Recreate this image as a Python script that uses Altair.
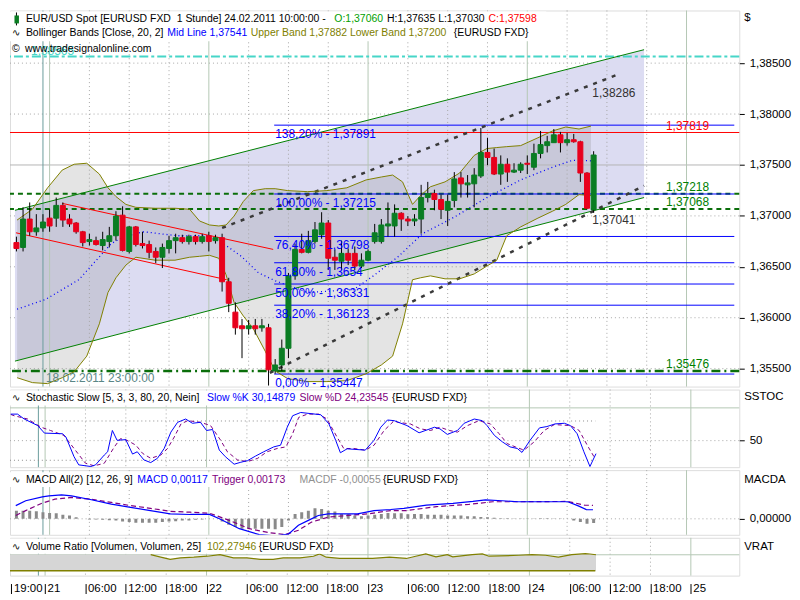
import altair as alt
import pandas as pd

FONT = "Liberation Sans"
W = 733
H_MAIN, H_STO, H_MACD, H_VOL = 378, 78, 65, 38
XMIN, XMAX = -0.22, 108.2

# ---------------- hourly EUR/USD bars, index 0 = 18.02.2011 19:00 ----------------
bar_open = [1.36738,1.36690,1.36969,1.36844,1.36882,1.36978,1.36978,1.37103,1.36969,1.36930,
 1.36844,1.36748,1.36757,1.36709,1.36748,1.36805,1.37007,1.36651,1.36892,1.36728,
 1.36719,1.36651,1.36594,1.36680,1.36757,1.36786,1.36748,1.36796,1.36748,1.36805,
 1.36757,1.36786,1.36353,1.36055,1.35921,1.35892,1.35921,1.35901,1.35901,1.35478,
 1.35536,1.35700,1.36411,1.36671,1.36642,1.36748,1.36815,1.36930,1.36594,1.36555,
 1.36632,1.36632,1.36507,1.36565,1.36748,1.36748,1.36901,1.36901,1.37026,1.36969,
 1.36950,1.36969,1.37180,1.37219,1.37161,1.37055,1.37151,1.37373,1.37305,1.37315,
 1.37392,1.37623,1.37574,1.37411,1.37507,1.37430,1.37449,1.37517,1.37478,1.37613,
 1.37690,1.37719,1.37796,1.37719,1.37748,1.37728,1.37421,1.37060]
bar_high = [1.36796,1.37084,1.37132,1.37017,1.37017,1.37065,1.37180,1.37132,1.37017,1.36940,
 1.36853,1.36825,1.36796,1.36844,1.36892,1.37046,1.37094,1.36901,1.36901,1.36844,
 1.36757,1.36690,1.36728,1.36805,1.36825,1.36815,1.36815,1.36815,1.36825,1.36844,
 1.36815,1.36825,1.36392,1.36151,1.35988,1.35978,1.35988,1.35988,1.35940,1.35594,
 1.35786,1.36440,1.36728,1.36825,1.36853,1.36940,1.37036,1.36959,1.36671,1.36757,
 1.36680,1.36700,1.36632,1.36671,1.36921,1.36969,1.37132,1.37113,1.37036,1.36998,
 1.37017,1.37305,1.37334,1.37257,1.37209,1.37209,1.37430,1.37430,1.37401,1.37469,
 1.37863,1.37767,1.37661,1.37594,1.37565,1.37517,1.37526,1.37594,1.37709,1.37834,
 1.37786,1.37853,1.37825,1.37815,1.37805,1.37738,1.37430,1.37635]
bar_low = [1.36651,1.36651,1.36805,1.36805,1.36844,1.36844,1.36892,1.36892,1.36892,1.36825,
 1.36700,1.36709,1.36709,1.36661,1.36690,1.36757,1.36651,1.36632,1.36700,1.36680,
 1.36584,1.36536,1.36488,1.36632,1.36632,1.36728,1.36719,1.36719,1.36728,1.36651,
 1.36728,1.36257,1.36055,1.35834,1.35603,1.35834,1.35834,1.35863,1.35334,1.35450,
 1.35478,1.35603,1.36373,1.36632,1.36632,1.36728,1.36776,1.36469,1.36469,1.36469,
 1.36517,1.36469,1.36488,1.36555,1.36728,1.36728,1.36796,1.36796,1.36853,1.36901,
 1.36901,1.36825,1.37132,1.37055,1.36969,1.36901,1.37084,1.37180,1.37180,1.37084,
 1.37373,1.37498,1.37401,1.37305,1.37334,1.37421,1.37421,1.37411,1.37449,1.37565,
 1.37623,1.37719,1.37623,1.37690,1.37719,1.37334,1.37065,1.37030]
bar_close = [1.36680,1.36969,1.36844,1.36882,1.36940,1.36901,1.37103,1.36959,1.36921,1.36844,
 1.36738,1.36767,1.36719,1.36767,1.36805,1.36998,1.36661,1.36892,1.36719,1.36709,
 1.36642,1.36594,1.36690,1.36757,1.36786,1.36748,1.36796,1.36748,1.36796,1.36748,
 1.36786,1.36353,1.36142,1.35901,1.35892,1.35921,1.35892,1.35921,1.35488,1.35536,
 1.35700,1.36411,1.36671,1.36642,1.36757,1.36863,1.36930,1.36584,1.36565,1.36632,
 1.36565,1.36507,1.36565,1.36651,1.36834,1.36911,1.36921,1.37026,1.36969,1.36950,
 1.36969,1.37180,1.37219,1.37161,1.37065,1.37142,1.37363,1.37315,1.37324,1.37401,
 1.37623,1.37574,1.37411,1.37507,1.37430,1.37449,1.37507,1.37507,1.37613,1.37700,
 1.37728,1.37796,1.37719,1.37748,1.37728,1.37421,1.37075,1.37598]

# ---------------- Bollinger bands (read at sample bars) ----------------
band_idx = [0.1,2.4,4.7,6.9,8.7,10.6,12.5,13.8,15.0,16.5,18.0,20.9,23.9,26.1,27.6,29.1,30.5,31.6,32.8,34.2,
 35.7,37.5,39.0,40.9,43.9,46.8,49.8,52.7,55.0,56.7,58.2,59.7,60.9,62.4,64.6,66.8,69.0,70.9,72.4,73.9,
 76.0,78.6,80.8,82.8,84.8,86.6]
band_upper = [1.36959,1.37065,1.37276,1.37450,1.37507,1.37517,1.37411,1.37276,1.37190,1.37113,
 1.37084,1.37075,1.37075,1.37065,1.36950,1.36911,1.36901,1.36911,1.36998,1.37142,
 1.37248,1.37267,1.37267,1.37248,1.37238,1.37248,1.37276,1.37353,1.37382,1.37401,
 1.37334,1.37113,1.37199,1.37286,1.37334,1.37421,1.37594,1.37661,1.37671,1.37680,
 1.37690,1.37767,1.37834,1.37873,1.37853,1.37882]
band_lower = [1.35411,1.35363,1.35353,1.35411,1.35469,1.35623,1.35940,1.36248,1.36392,1.36517,
 1.36594,1.36565,1.36565,1.36594,1.36603,1.36613,1.36584,1.36421,1.36151,1.36017,
 1.35892,1.35671,1.35478,1.35401,1.35373,1.35373,1.35382,1.35450,1.35536,1.35623,
 1.35940,1.36373,1.36392,1.36411,1.36382,1.36382,1.36430,1.36507,1.36565,1.36805,
 1.36892,1.36978,1.37046,1.37113,1.37209,1.37199]
mid_idx = [0.1,4.4,9.4,14.3,16.2,19.2,24.2,29.1,31.6,33.9,36.5,39.0,43.9,50.8,53.8,57.6,61.2,66.0,70.9,76.0,80.8,83.8,86.6]
mid_val = [1.36084,1.36180,1.36373,1.36728,1.36796,1.36844,1.36805,1.36805,1.36709,1.36603,1.36440,1.36363,
 1.36248,1.36276,1.36411,1.36603,1.36825,1.36988,1.37180,1.37353,1.37478,1.37546,1.37541]

# ---------------- drawings ----------------
chan_green_upper = [(-0.22, 1.37055), (94.6, 1.38632)]
chan_green_lower = [(-0.22, 1.35574), (94.6, 1.37180)]
chan_red_upper = [(6.9, 1.37123), (38.7, 1.36671)]
chan_red_lower = [(-0.07, 1.36834), (31.7, 1.36373)]
chan_dash_upper = [(31.0, 1.36882), (90.8, 1.38392)]
chan_dash_lower = [(38.2, 1.35459), (94.6, 1.37296)]
fib_start = 38.85
fib_levels = [1.37891, 1.37215, 1.36798, 1.36540, 1.36331, 1.36123, 1.35447]
fib_labels = ["138,20% - 1,37891", "100,00% - 1,37215", "76,40% - 1,36798", "61,80% - 1,3654",
              "50,00% - 1,36331", "38,20% - 1,36123", "0,00% - 1,35447"]
level_red = 1.37819
levels_green_dash = [1.37218, 1.37068]
level_green_dashdot = 1.35476
level_cyan = 1.38565
right_labels = [("1,37819", 1.37819, "#ff0000"), ("1,37218", 1.37218, "#008000"),
                ("1,37068", 1.37068, "#008000"), ("1,35476", 1.35476, "#008000")]
dash_labels = [("1,38286", 1.38286), ("1,37041", 1.37041)]

# ---------------- indicators ----------------
stoch_k = [(-0.1,90.5),(0.9,90.5),(1.9,83),(3.9,73),(4.9,61.5),(7.6,60.5),(8.1,55.5),(9.3,25.5),(10.0,13),(11.8,10.5),
 (12.5,13),(13.8,28),(14.3,33),(15.0,65.5),(15.7,50.5),(17.0,51.5),(18.0,29.5),(18.7,33),(19.7,20.5),(20.7,16.5),
 (21.7,23),(22.7,38),(23.7,63),(24.7,78),(25.9,83),(26.9,76.5),(28.1,78),(29.0,65.5),(29.9,67),(30.9,35.5),
 (31.8,25.5),(33.1,14),(34.1,17),(35.1,19.5),(36.3,26.5),(37.5,33),(39.0,40.5),(40.0,43),(41.0,70.5),(41.8,88),
 (43.0,93),(46.0,89.5),(47.2,75.5),(48.2,50.5),(48.9,31.5),(49.9,37.5),(52.6,35.5),(53.9,50.5),(54.9,70.5),(55.9,81.5),
 (56.9,80.5),(58.8,73),(60.6,62),(62.9,70.5),(63.7,68),(64.8,59.5),(66.3,65.5),(67.3,76.5),(68.8,83),(70.0,80.5),
 (70.7,73),(71.8,58),(73.0,48),(74.1,40.5),(75.2,38),(75.9,32),(77.1,50.5),(78.5,69.5),(79.6,71.5),(80.8,75.5),
 (82.2,76.5),(83.1,73),(84.1,60.5),(85.1,33),(86.0,10.5),(86.9,30.1)]
stoch_d = [(-0.1,90),(0.4,88),(2.4,83),(4.4,70.5),(5.8,65.5),(7.8,58),(9.3,38),(11.0,15.5),(12.3,11.5),(13.8,15.5),
 (15.3,40.5),(16.2,53),(17.2,50.5),(18.5,43),(19.5,30.5),(20.7,23),(22.2,28),(23.2,38),(24.2,55.5),(25.2,75.5),
 (26.2,80.5),(28.1,78),(29.6,73),(31.1,50.5),(32.1,33),(33.6,20.5),(35.1,18),(36.6,23),(38.0,33),(39.5,38),
 (40.8,40.5),(41.8,60.5),(42.7,85.5),(44.0,90.5),(45.7,90.5),(46.9,83),(48.4,55.5),(49.4,38),(50.9,38),(52.6,35.5),
 (53.9,43),(55.4,65.5),(56.9,80.5),(57.4,78),(59.3,75.5),(60.8,68),(62.3,65.5),(63.7,70.5),(65.1,65.5),(66.3,63),
 (67.8,73),(69.5,80.5),(71.2,75.5),(72.5,60.5),(73.7,45.5),(74.9,40.5),(76.2,35.5),(77.7,48),(79.2,65.5),(80.7,74.5),
 (83.1,73),(84.4,65.5),(85.6,43),(86.6,25.5),(86.9,24.2)]
macd_line = [(-0.1,0.00170),(1.4,0.00233),(3.9,0.00283),(4.9,0.00296),(6.8,0.00309),(8.3,0.00296),(11.3,0.00246),
 (14.3,0.00190),(17.2,0.00148),(20.2,0.00106),(23.2,0.00063),(26.2,0.00056),(29.1,0.00056),(30.6,0.0),
 (33.6,-0.00127),(36.6,-0.00203),(39.0,-0.00220),(41.0,-0.00197),(42.5,-0.00084),(44.0,-0.00020),(45.5,0.00043),
 (47.0,0.00063),(51.4,0.00063),(53.9,0.00106),(56.4,0.00120),(58.4,0.00135),(61.8,0.00177),(65.8,0.00199),
 (68.8,0.00224),(70.7,0.00245),(73.2,0.00233),(75.6,0.00220),(78.2,0.00220),(83.1,0.00220),(84.6,0.00170),
 (85.9,0.00119),(86.9,0.00117)]
macd_trigger = [(-0.1,0.00043),(1.4,0.00106),(3.9,0.00203),(5.8,0.00253),(8.3,0.00275),(11.3,0.00253),(14.3,0.00211),
 (17.2,0.00170),(20.2,0.00135),(23.2,0.00097),(26.2,0.00085),(29.1,0.00072),(32.1,-0.00020),(35.1,-0.00127),
 (38.0,-0.00177),(40.5,-0.00203),(42.5,-0.00147),(44.5,-0.00042),(47.0,0.00022),(49.9,0.00043),(52.9,0.00063),
 (56.4,0.00106),(58.8,0.00106),(63.3,0.00157),(68.2,0.00186),(71.8,0.00220),(75.6,0.00220),(83.1,0.00224),
 (85.6,0.00177),(86.9,0.00173)]
macd_hist = [0.00105,0.00105,0.00105,0.00097,0.00084,0.00076,0.00072,0.00051,0.00042,0.00021,
 0.0,-0.00008,-0.00008,-0.00013,-0.00017,-0.00021,-0.00034,-0.00042,-0.00051,-0.00051,
 -0.00051,-0.00051,-0.00042,-0.00034,-0.00030,-0.00021,-0.00021,-0.00013,-0.00008,0.0,
 0.0,-0.00034,-0.00076,-0.00105,-0.00127,-0.00127,-0.00127,-0.00127,-0.00127,-0.00135,
 -0.00105,-0.00021,0.00063,0.00084,0.00105,0.00135,0.00127,0.00105,0.00093,0.00063,
 0.00063,0.00042,0.00034,0.00042,0.00051,0.00063,0.00076,0.00072,0.00072,0.00059,
 0.00063,0.00063,0.00051,0.00051,0.00051,0.00042,0.00042,0.00042,0.00034,0.00034,
 0.00025,0.00021,0.00013,0.00008,0.00008,0.00004,0.00004,0.00004,0.00004,0.00008,
 0.00008,0.00004,0.00004,0.0,-0.00021,-0.00042,-0.00063,-0.00055]
vol_ratio = [(20.7,101),(22.2,85),(23.6,71),(25.1,81),(27.1,85),(29.1,91),(31.0,101),(33.0,81),(35.0,81),(37.0,71),
 (38.9,71),(40.4,81),(42.9,81),(44.9,91),(45.8,105),(46.8,85),(48.8,77),(53.7,77),(56.2,85),(58.7,77),
 (60.1,91),(61.6,105),(63.1,87),(64.8,101),(65.6,87),(68.5,101),(70.0,105),(71.0,91),(75.4,97),(77.4,101),
 (79.4,97),(81.3,85),(83.3,101),(85.3,107),(86.0,105),(86.9,100)]
vol_ratio_start = (-0.2, 101)

# ---------------- time axis ----------------
tick_idx = [0, 5, 11, 17, 23, 29, 35, 41, 47, 53, 59, 65, 71, 77, 83, 89, 95, 101]
tick_text = ["19:00", "21", "06:00", "12:00", "18:00", "22", "06:00", "12:00", "18:00", "23",
             "06:00", "12:00", "18:00", "24", "06:00", "12:00", "18:00", "25"]
six_hour_idx = [11, 17, 23, 35, 41, 47, 59, 65, 71, 83, 89, 95]
day_idx = [5, 29, 53, 77, 101]
marker_idx = 4  # 18.02.2011 23:00
main_ticks = [1.355, 1.36, 1.365, 1.37, 1.375, 1.38, 1.385]

# ---------------- colours ----------------
C_UP, C_DN = "#0a7d23", "#e8001c"
OLIVE, BLUE, PURPLE = "#808000", "#0000ff", "#800080"
GRID, DAY, TEAL = "#a6a6a6", "#b4c8b4", "#6a9c9c"
LEG = 10.5

xs = alt.Scale(domain=[XMIN, XMAX], nice=False, zero=False)
ys_main = alt.Scale(domain=[1.35324, 1.39017], nice=False, zero=False)
ys_sto = alt.Scale(domain=[9.5, 128], nice=False, zero=False)
ys_macd = alt.Scale(domain=[-0.00206, 0.00627], nice=False, zero=False)
ys_vol = alt.Scale(domain=[-30, 206], nice=False, zero=False)


def X(f="i", bottom=False):
    # upper panels: no x axis at all; bottom panel: leave axis to the dedicated axis layer
    if bottom:
        return alt.X(f"{f}:Q", scale=xs)
    return alt.X(f"{f}:Q", scale=xs, axis=None)


def Yq(f, sc, off=False):
    # y axis is defined once per panel by its axis layer; other layers leave it implicit
    if off:
        return alt.Y(f"{f}:Q", scale=sc, axis=None)
    return alt.Y(f"{f}:Q", scale=sc)


def px_texts(rows, size=LEG):
    out = []
    for px, py, t, col in rows:
        out.append(alt.Chart(pd.DataFrame({"t": [t]})).mark_text(
            align="left", baseline="middle", font=FONT, fontSize=size, color=col).encode(
            x=alt.value(px), y=alt.value(py), text="t:N"))
    return out


def px_rect(x0, x1, y0, y1, color="white"):
    return alt.Chart(pd.DataFrame({"a": [0]})).mark_rect(color=color).encode(
        x=alt.value(x0), x2=alt.value(x1), y=alt.value(y0), y2=alt.value(y1))


def vgrid(bottom=False):
    dots = alt.Chart(pd.DataFrame({"i": six_hour_idx})).mark_rule(color=GRID, strokeDash=[1, 3]).encode(
        x=X("i", bottom))
    days = alt.Chart(pd.DataFrame({"i": day_idx})).mark_rule(color=DAY).encode(x=X("i", bottom))
    mark = alt.Chart(pd.DataFrame({"i": [marker_idx]})).mark_rule(color=TEAL).encode(x=X("i", bottom))
    return [dots, days, mark]


def seg(points):
    return pd.DataFrame({"x0": [points[0][0]], "y0": [points[0][1]], "x1": [points[1][0]], "y1": [points[1][1]]})


num_expr = "replace(format(datum.value, '.5f'), '.', ',')"


def right_axis(values, expr=None):
    kw = dict(orient="right", values=values, tickSize=5, labelPadding=5, domain=False, grid=False, title=None,
              labelFont=FONT, labelFontSize=11.5, labelColor="black", tickColor="black", ticks=True, labels=True)
    if expr:
        kw["labelExpr"] = expr
    return alt.Axis(**kw)


# ======================= MAIN PANEL =======================
hgrid = alt.Chart(pd.DataFrame({"p": [t for t in main_ticks if t != 1.375]})).mark_rule(
    color=GRID, strokeDash=[1, 3]).encode(
    y=alt.Y("p:Q", scale=ys_main, axis=right_axis(main_ticks, num_expr)))

lav = pd.DataFrame({"i": [chan_green_upper[0][0], chan_green_upper[1][0]],
                    "top": [chan_green_upper[0][1], chan_green_upper[1][1]],
                    "bot": [chan_green_lower[0][1], chan_green_lower[1][1]]})
lav_area = alt.Chart(lav).mark_area(color="#dcdcf2").encode(x=X(), y=Yq("top", ys_main), y2="bot:Q")

bb = pd.DataFrame({"i": band_idx, "u": band_upper, "l": band_lower})
bb_area = alt.Chart(bb).mark_area(color="#787878", opacity=0.2).encode(x=X(), y=Yq("u", ys_main), y2="l:Q")

hsolid = alt.Chart(pd.DataFrame({"p": [1.375]})).mark_rule(color="#b4b4b4").encode(y=Yq("p", ys_main))
red_lvl = alt.Chart(pd.DataFrame({"p": [level_red]})).mark_rule(color="#ff0000").encode(y=Yq("p", ys_main))
grn_dash = alt.Chart(pd.DataFrame({"p": levels_green_dash})).mark_rule(
    color="#0a6e0a", strokeWidth=2, strokeDash=[5, 4]).encode(y=Yq("p", ys_main))
grn_dd = alt.Chart(pd.DataFrame({"p": [level_green_dashdot]})).mark_rule(
    color="#0a6e0a", strokeWidth=2.5, strokeDash=[9, 4, 2, 4]).encode(y=Yq("p", ys_main))
cyan_dd = alt.Chart(pd.DataFrame({"p": [level_cyan]})).mark_rule(
    color="#46d6c8", strokeWidth=2, strokeDash=[9, 3, 3, 3]).encode(y=Yq("p", ys_main))


def seg_layer(points, **kw):
    return alt.Chart(seg(points)).mark_rule(**kw).encode(
        x=X("x0"), x2="x1:Q", y=Yq("y0", ys_main), y2="y1:Q")


g_up = seg_layer(chan_green_upper, color="#008000")
g_lo = seg_layer(chan_green_lower, color="#008000")
r_up = seg_layer(chan_red_upper, color="#ff0000")
r_lo = seg_layer(chan_red_lower, color="#ff0000")
d_up = seg_layer(chan_dash_upper, color="#3a3a3a", strokeWidth=2.5, strokeDash=[4, 6])
d_lo = seg_layer(chan_dash_lower, color="#3a3a3a", strokeWidth=2.5, strokeDash=[4, 6])

fib = pd.DataFrame({"i0": [fib_start] * len(fib_levels), "i1": [XMAX] * len(fib_levels),
                    "p": fib_levels, "t": fib_labels})
fib_lines = alt.Chart(fib).mark_rule(color=BLUE).encode(x=X("i0"), x2="i1:Q", y=Yq("p", ys_main))
fib_text = alt.Chart(fib).mark_text(align="left", baseline="middle", dx=1, dy=9, font=FONT, fontSize=12,
                                    color=BLUE).encode(x=X("i0"), y=Yq("p", ys_main), text="t:N")

bb_up = alt.Chart(bb).mark_line(color=OLIVE, strokeWidth=1).encode(x=X(), y=Yq("u", ys_main))
bb_lo = alt.Chart(bb).mark_line(color=OLIVE, strokeWidth=1).encode(x=X(), y=Yq("l", ys_main))
mid = alt.Chart(pd.DataFrame({"i": mid_idx, "p": mid_val})).mark_line(
    color=BLUE, strokeWidth=1.3, strokeDash=[1, 3]).encode(x=X(), y=Yq("p", ys_main))

bars = pd.DataFrame({"i": list(range(len(bar_open))), "o": bar_open, "h": bar_high, "l": bar_low, "c": bar_close})
bars["dir"] = ["up" if c >= o else "down" for o, c in zip(bar_open, bar_close)]
cscale = alt.Scale(domain=["up", "down"], range=[C_UP, C_DN])
wicks = alt.Chart(bars).mark_rule(color="black", clip=True).encode(x=X(), y=Yq("l", ys_main), y2="h:Q")
bodies = alt.Chart(bars).mark_bar(size=5, clip=True, strokeWidth=1).encode(
    x=X(), y=Yq("o", ys_main), y2="c:Q",
    color=alt.Color("dir:N", scale=cscale, legend=None),
    stroke=alt.Stroke("dir:N", scale=cscale, legend=None))

rl = pd.DataFrame({"t": [r[0] for r in right_labels], "p": [r[1] for r in right_labels],
                   "col": [r[2] for r in right_labels], "i": [97.9] * len(right_labels)})
rl_text = alt.Chart(rl).mark_text(align="left", baseline="middle", dy=-7, font=FONT, fontSize=12).encode(
    x=X(), y=Yq("p", ys_main), text="t:N", color=alt.Color("col:N", scale=None, legend=None))
dl = pd.DataFrame({"t": [d[0] for d in dash_labels], "p": [d[1] for d in dash_labels], "i": [86.8, 86.8]})
dl_text = alt.Chart(dl).mark_text(align="left", baseline="middle", dy=8, font=FONT, fontSize=12,
                                  color="#333333").encode(x=X(), y=Yq("p", ys_main), text="t:N")
cy_text = alt.Chart(pd.DataFrame({"i": [2.2], "p": [level_cyan], "t": ["1,38565"]})).mark_text(
    align="left", baseline="middle", dy=-6, font=FONT, fontSize=12, color="#46d6c8").encode(
    x=X(), y=Yq("p", ys_main), text="t:N")
mk_text = alt.Chart(pd.DataFrame({"i": [marker_idx], "p": [1.35411], "t": ["18.02.2011 23:00:00"]})).mark_text(
    align="left", baseline="middle", dx=3, font=FONT, fontSize=12, color="#5a8686").encode(
    x=X(), y=Yq("p", ys_main), text="t:N")

main_legend = [px_rect(0, 539, 1, 16), px_rect(0, 524, 16, 31),
               alt.Chart(pd.DataFrame({"a": [0]})).mark_rule(color="black").encode(
                   x=alt.value(6.5), y=alt.value(2), y2=alt.value(15)),
               px_rect(4.5, 9, 5, 13, color=C_UP)]
main_legend += px_texts([
    (16, 9, "EUR/USD Spot [EURUSD FXD\u00a0 1 Stunde] 24.02.2011 10:00:00 -", "black"),
    (326, 9, "O:1,37060", "#00a000"),
    (379, 9, "H:1,37635 L:1,37030", "black"),
    (481, 9, "C:1,37598", "#ff0000"),
    (2, 23, "∿", "black"),
    (16, 23, "Bollinger Bands [Close, 20, 2]", "black"),
    (158, 23, "Mid Line 1,37541", BLUE),
    (242, 23, "Upper Band 1,37882 Lower Band 1,37200", OLIVE),
    (446, 23, "{EURUSD FXD}", "black"),
    (2, 39, "©", "black"),
    (15, 39, "www.tradesignalonline.com", "black"),
])
main_legend += px_texts([(738, 8, "$", "black")], size=11.5)

main = alt.layer(
    hgrid, lav_area, bb_area, hsolid, *vgrid(), red_lvl, grn_dash, grn_dd, cyan_dd,
    g_up, g_lo, r_up, r_lo, fib_lines, d_up, d_lo, bb_up, bb_lo, mid, wicks, bodies,
    fib_text, rl_text, dl_text, cy_text, mk_text, *main_legend
).properties(width=W, height=H_MAIN)

# ======================= STOCHASTIC =======================
sk = pd.DataFrame(stoch_k, columns=["i", "v"])
sd = pd.DataFrame(stoch_d, columns=["i", "v"])
sto_axis = alt.Chart(pd.DataFrame({"v": [50]})).mark_rule(color=GRID, strokeDash=[1, 3]).encode(
    y=alt.Y("v:Q", scale=ys_sto, axis=right_axis([50])))
sto_top = alt.Chart(pd.DataFrame({"v": [100]})).mark_rule(color=DAY).encode(y=Yq("v", ys_sto))
sto_lv = alt.Chart(pd.DataFrame({"i0": [XMIN, XMIN], "i1": [86.8, 86.8], "v": [80, 20]})).mark_rule(
    color="#8c8c8c", strokeDash=[1, 3]).encode(x=X("i0"), x2="i1:Q", y=Yq("v", ys_sto))
sto_d = alt.Chart(sd).mark_line(color=PURPLE, strokeDash=[4, 3], strokeWidth=1, clip=True).encode(
    x=X(), y=Yq("v", ys_sto))
sto_k = alt.Chart(sk).mark_line(color=BLUE, strokeWidth=1, clip=True).encode(x=X(), y=Yq("v", ys_sto))
sto_legend = [px_rect(0, 461, 1, 16)] + px_texts([
    (2, 9, "∿", "black"),
    (16, 9, "Stochastic Slow [5, 3, 3, 80, 20, Nein]", "black"),
    (198, 9, "Slow %K 30,14879", BLUE),
    (291, 9, "Slow %D 24,23545", PURPLE),
    (384, 9, "{EURUSD FXD}", "black"),
]) + px_texts([(738, 8, "SSTOC", "black")], size=11.5)
sto = alt.layer(sto_axis, sto_top, *vgrid(), sto_lv, sto_d, sto_k, *sto_legend).properties(
    width=W, height=H_STO)

# ======================= MACD =======================
ml = pd.DataFrame(macd_line, columns=["i", "v"])
mt = pd.DataFrame(macd_trigger, columns=["i", "v"])
mh = pd.DataFrame({"i": list(range(len(macd_hist))), "v": macd_hist, "z": [0.0] * len(macd_hist)})
macd_axis = alt.Chart(pd.DataFrame({"v": [0.0]})).mark_rule(color=GRID, strokeDash=[1, 3]).encode(
    y=alt.Y("v:Q", scale=ys_macd, axis=right_axis([0.0], num_expr)))
macd_bars = alt.Chart(mh).mark_bar(size=3, color="#8a8a8a", clip=True).encode(
    x=X(), y=Yq("v", ys_macd), y2="z:Q")
macd_t = alt.Chart(mt).mark_line(color=PURPLE, strokeDash=[5, 3], strokeWidth=1.2, clip=True).encode(
    x=X(), y=Yq("v", ys_macd))
macd_l = alt.Chart(ml).mark_line(color=BLUE, strokeWidth=1.2, clip=True).encode(x=X(), y=Yq("v", ys_macd))
macd_legend = [px_rect(0, 452, 2, 17)] + px_texts([
    (2, 10, "∿", "black"),
    (16, 10, "MACD All(2) [12, 26, 9]", "black"),
    (128, 10, "MACD 0,00117", BLUE),
    (203, 10, "Trigger 0,00173", PURPLE),
    (291, 10, "MACDF -0,00055", "#909090"),
    (375, 10, "{EURUSD FXD}", "black"),
]) + px_texts([(738, 10, "MACDA", "black")], size=11.5)
macd = alt.layer(macd_axis, *vgrid(), macd_bars, macd_t, macd_l, *macd_legend).properties(
    width=W, height=H_MACD)

# ======================= VOLUME RATIO =======================
vr_area_df = pd.DataFrame([vol_ratio_start] + vol_ratio, columns=["i", "v"])
vr_area_df["z"] = 0.0
vr_line_df = pd.DataFrame(vol_ratio, columns=["i", "v"])
label_expr = " : ".join(f"datum.value == {v} ? '{t}'" for v, t in zip(tick_idx, tick_text)) + " : ''"
vol_axis_layer = alt.Chart(pd.DataFrame({"i": day_idx})).mark_rule(color=DAY).encode(
    x=alt.X("i:Q", scale=xs, axis=alt.Axis(
        orient="bottom", values=tick_idx, labelExpr=label_expr, offset=8, tickSize=10, domain=False,
        grid=False, title=None, labelAlign="left", labelBaseline="middle", labelPadding=-5,
        labelOffset=2, labelFont=FONT, labelFontSize=11.5, labelColor="black", tickColor="black",
        labelFlush=False, labelOverlap=False, ticks=True, labels=True)))
vol_dots = alt.Chart(pd.DataFrame({"i": six_hour_idx})).mark_rule(color=GRID, strokeDash=[1, 3]).encode(
    x=X("i", True))
vol_mark = alt.Chart(pd.DataFrame({"i": [marker_idx]})).mark_rule(color=TEAL).encode(x=X("i", True))
vol_100 = alt.Chart(pd.DataFrame({"v": [100]})).mark_rule(color=DAY).encode(y=Yq("v", ys_vol, True))
vol_area = alt.Chart(vr_area_df).mark_area(color="#d6d6d6").encode(
    x=X("i", True), y=Yq("v", ys_vol, True), y2="z:Q")
vol_line = alt.Chart(vr_line_df).mark_line(color=OLIVE, strokeWidth=1.2).encode(
    x=X("i", True), y=Yq("v", ys_vol, True))
vol_zero = alt.Chart(pd.DataFrame({"i0": [XMIN], "i1": [86.8], "v": [0]})).mark_rule(
    color=OLIVE, strokeWidth=1.5).encode(x=X("i0", True), x2="i1:Q", y=Yq("v", ys_vol, True))
vol_legend = [px_rect(0, 330, 1, 16)] + px_texts([
    (2, 9, "∿", "black"),
    (16, 9, "Volume Ratio [Volumen, Volumen, 25]", "black"),
    (198, 9, "102,27946", OLIVE),
    (250, 9, "{EURUSD FXD}", "black"),
]) + px_texts([(738, 9, "VRAT", "black")], size=11.5)
vol = alt.layer(vol_axis_layer, vol_dots, vol_mark, vol_100, vol_area, vol_line, vol_zero,
                *vol_legend).properties(width=W, height=H_VOL)

chart = alt.vconcat(main, sto, macd, vol, spacing=3, bounds="flush").properties(
    padding=0, background="white"
).configure_view(stroke="black", strokeWidth=1, fill="#f5f5f5").configure(font=FONT)

chart.save("out.html", embed_options={"renderer": "svg", "actions": False})
